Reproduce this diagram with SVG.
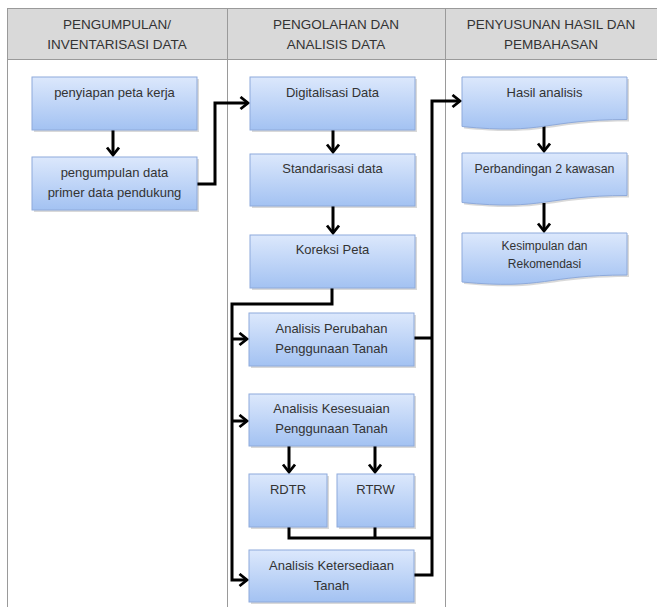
<svg xmlns="http://www.w3.org/2000/svg" width="657" height="607" viewBox="0 0 657 607">
<style>
.hdr{font-family:"Liberation Sans",Arial,sans-serif;font-size:13.5px;fill:#333;text-anchor:middle}
.t{font-family:"Liberation Sans",Arial,sans-serif;font-size:13px;fill:#333;text-anchor:middle}
.s{font-size:12px}
.box{fill:url(#g);stroke:#8eaadb;stroke-width:1}
.sh{fill:#000;opacity:0.15}
.grid{stroke:#9a9a9a;stroke-width:1;fill:none}
.c{stroke:#000;stroke-width:3;fill:none;stroke-linejoin:miter}
.a{marker-end:url(#ah)}
</style>
<defs>
<linearGradient id="g" x1="0" y1="0" x2="0" y2="1">
<stop offset="0" stop-color="#dce8fc"/>
<stop offset="1" stop-color="#a3c2f2"/>
</linearGradient>
<marker id="ah" markerUnits="userSpaceOnUse" markerWidth="14" markerHeight="16" refX="9" refY="7" orient="auto">
<path d="M1.5,1 L9,7 L1.5,13" fill="none" stroke="#000" stroke-width="2.8"/>
</marker>
</defs>
<rect width="657" height="607" fill="#fff"/>
<g id="table">
<rect x="7" y="8.5" width="660" height="51" fill="#d9d9d9"/>
<path class="grid" d="M7,8.5 H657 M7,59.5 H657 M7.5,8.5 V607 M227.5,8.5 V607 M445.5,8.5 V607"/>
<text class="hdr" x="117" y="29">PENGUMPULAN/</text>
<text class="hdr" x="117" y="49">INVENTARISASI DATA</text>
<text class="hdr" x="336" y="29">PENGOLAHAN DAN</text>
<text class="hdr" x="336" y="49">ANALISIS DATA</text>
<text class="hdr" x="551" y="29">PENYUSUNAN HASIL DAN</text>
<text class="hdr" x="551" y="49">PEMBAHASAN</text>
</g>
<g id="connectors">
<path class="c a" d="M113,130 V155"/>
<path class="c a" d="M197,184 H215 V103 H248"/>
<path class="c a" d="M333,130 V152"/>
<path class="c a" d="M333,206 V233"/>
<path class="c a" d="M332,288 V304 H232 V580 H247"/>
<path class="c a" d="M232,339 H247"/>
<path class="c a" d="M232,421 H247"/>
<path class="c a" d="M289,446 V472"/>
<path class="c a" d="M375,446 V472"/>
<path class="c" d="M289,527 V538 H432"/>
<path class="c" d="M375,527 V538"/>
<path class="c" d="M414,338 H432"/>
<path class="c a" d="M414,575 H432 V101 H460"/>
<path class="c a" d="M544,126 V151"/>
<path class="c a" d="M544,203 V231"/>
</g>
<g id="n1">
<rect class="sh" x="34" y="79" width="165" height="53"/>
<rect class="box" x="32" y="77" width="165" height="53"/>
<text class="t" x="114.5" y="97">penyiapan peta kerja</text>
</g>
<g id="n2">
<rect class="sh" x="34" y="159" width="165" height="53"/>
<rect class="box" x="32" y="157" width="165" height="53"/>
<text class="t" x="114.5" y="177">pengumpulan data</text>
<text class="t" x="114.5" y="197">primer data pendukung</text>
</g>
<g id="n3">
<rect class="sh" x="252" y="79" width="165" height="53"/>
<rect class="box" x="250" y="77" width="165" height="53"/>
<text class="t" x="332.5" y="97">Digitalisasi Data</text>
</g>
<g id="n4">
<rect class="sh" x="252" y="156" width="165" height="52"/>
<rect class="box" x="250" y="154" width="165" height="52"/>
<text class="t" x="332.5" y="173">Standarisasi data</text>
</g>
<g id="n5">
<rect class="sh" x="252" y="237" width="165" height="53"/>
<rect class="box" x="250" y="235" width="165" height="53"/>
<text class="t" x="332.5" y="254">Koreksi Peta</text>
</g>
<g id="n6">
<rect class="sh" x="251" y="315" width="165" height="53"/>
<rect class="box" x="249" y="313" width="165" height="53"/>
<text class="t" x="331.5" y="333">Analisis Perubahan</text>
<text class="t" x="331.5" y="353">Penggunaan Tanah</text>
</g>
<g id="n7">
<rect class="sh" x="251" y="396" width="165" height="52"/>
<rect class="box" x="249" y="394" width="165" height="52"/>
<text class="t" x="331.5" y="413">Analisis Kesesuaian</text>
<text class="t" x="331.5" y="433">Penggunaan Tanah</text>
</g>
<g id="n8">
<rect class="sh" x="251" y="476" width="78" height="53"/>
<rect class="box" x="249" y="474" width="78" height="53"/>
<text class="t" x="288" y="494">RDTR</text>
</g>
<g id="n9">
<rect class="sh" x="339" y="476" width="77" height="53"/>
<rect class="box" x="337" y="474" width="77" height="53"/>
<text class="t" x="375.5" y="494">RTRW</text>
</g>
<g id="n10">
<rect class="sh" x="251" y="552" width="165" height="52"/>
<rect class="box" x="249" y="550" width="165" height="52"/>
<text class="t" x="331.5" y="570">Analisis Ketersediaan</text>
<text class="t" x="331.5" y="590">Tanah</text>
</g>
<g id="n11">
<path class="sh" d="M464,79 H629 V121.5 C546.5,121.5 546.5,137 464,128.5 Z"/>
<path class="box" d="M462,77 H627 V119.5 C544.5,119.5 544.5,135 462,126.5 Z"/>
<text class="t" x="544.5" y="97">Hasil analisis</text>
</g>
<g id="n12">
<path class="sh" d="M464,155 H629 V197.5 C546.5,197.5 546.5,213 464,204.5 Z"/>
<path class="box" d="M462,153 H627 V195.5 C544.5,195.5 544.5,211 462,202.5 Z"/>
<text class="t" x="544.5" y="173" style="font-size:12.4px">Perbandingan 2 kawasan</text>
</g>
<g id="n13">
<path class="sh" d="M464,235 H629 V277 C546.5,277 546.5,292 464,284 Z"/>
<path class="box" d="M462,233 H627 V275 C544.5,275 544.5,290 462,282 Z"/>
<text class="t s" x="544.5" y="250">Kesimpulan dan</text>
<text class="t s" x="544.5" y="268">Rekomendasi</text>
</g>
</svg>
